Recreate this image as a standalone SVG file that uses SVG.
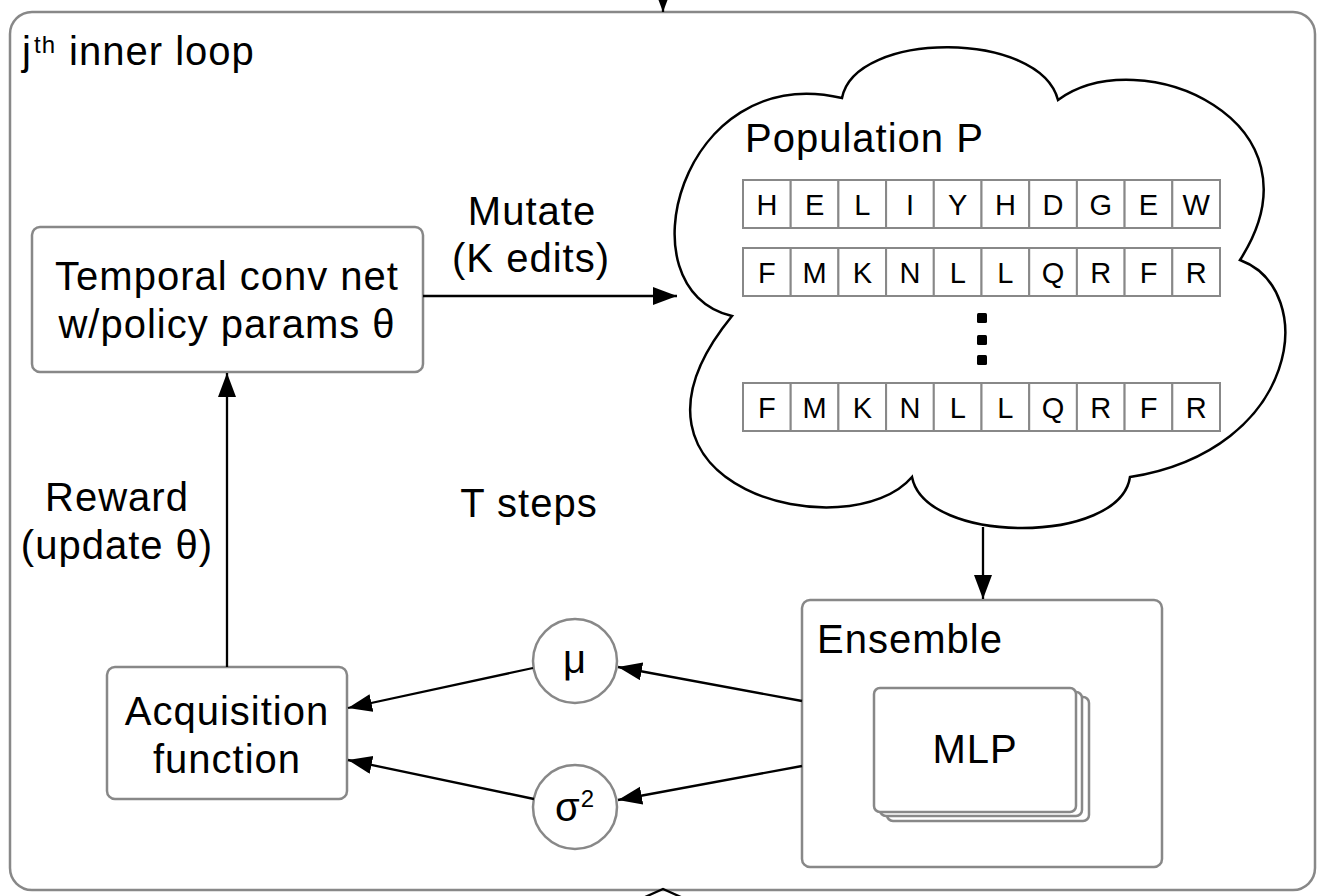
<svg xmlns="http://www.w3.org/2000/svg" width="1328" height="896" viewBox="0 0 1328 896">
<style>
  text { font-family: "Liberation Sans", Arial, Helvetica, sans-serif; fill: #000; }
  .lbl { font-size: 40px; letter-spacing: 1px; }
  .mid { text-anchor: middle; }
  .cell { font-size: 29px; text-anchor: middle; }
  .box { fill: #fff; stroke: #888; stroke-width: 2.5; }
  .cellbox { fill: #fff; stroke: #888; stroke-width: 2; }
  .edge { fill: none; stroke: #000; stroke-width: 2.3; }
</style>
<defs>
  <marker id="ah" markerUnits="userSpaceOnUse" markerWidth="26" markerHeight="20" refX="24" refY="9" orient="auto">
    <path d="M0,0 L24,9 L0,18 Z" fill="#000"/>
  </marker>
</defs>
<rect width="1328" height="896" fill="#fff"/>

<g id="inner-loop">
  <rect class="box" x="10" y="12" width="1305" height="878" rx="22"/>
  <text class="lbl" x="22" y="65">j<tspan x="34" y="53" style="font-size:24px">th</tspan><tspan x="57" y="65"> inner loop</tspan></text>
</g>

<g id="policy">
  <rect class="box" x="32" y="227" width="391" height="145" rx="8"/>
  <text class="lbl mid" x="227" y="290">Temporal conv net</text>
  <text class="lbl mid" x="227" y="338">w/policy params θ</text>
</g>

<g id="acquisition">
  <rect class="box" x="107" y="667" width="240" height="132" rx="8"/>
  <text class="lbl mid" x="227" y="725">Acquisition</text>
  <text class="lbl mid" x="227" y="773">function</text>
</g>

<g id="population">
  <path d="M842 98 C855 30 1040 30 1058 100 C1140 40 1330 120 1240 260 C1320 290 1300 450 1130 477 C1120 545 925 545 912 477 C850 550 590 490 732 316 C620 290 680 60 842 98 Z" fill="#fff" stroke="#000" stroke-width="2.5" stroke-linejoin="miter"/>
  <text class="lbl" x="745" y="152">Population P</text>
  <g id="seq1">
    <rect class="cellbox" x="743" y="180" width="47.7" height="48"/>
    <rect class="cellbox" x="790.7" y="180" width="47.7" height="48"/>
    <rect class="cellbox" x="838.4" y="180" width="47.7" height="48"/>
    <rect class="cellbox" x="886.1" y="180" width="47.7" height="48"/>
    <rect class="cellbox" x="933.8" y="180" width="47.7" height="48"/>
    <rect class="cellbox" x="981.5" y="180" width="47.7" height="48"/>
    <rect class="cellbox" x="1029.2" y="180" width="47.7" height="48"/>
    <rect class="cellbox" x="1076.9" y="180" width="47.7" height="48"/>
    <rect class="cellbox" x="1124.6" y="180" width="47.7" height="48"/>
    <rect class="cellbox" x="1172.3" y="180" width="47.7" height="48"/>
    <text class="cell" x="766.9" y="215">H</text>
    <text class="cell" x="814.6" y="215">E</text>
    <text class="cell" x="862.3" y="215">L</text>
    <text class="cell" x="910" y="215">I</text>
    <text class="cell" x="957.7" y="215">Y</text>
    <text class="cell" x="1005.4" y="215">H</text>
    <text class="cell" x="1053.1" y="215">D</text>
    <text class="cell" x="1100.8" y="215">G</text>
    <text class="cell" x="1148.5" y="215">E</text>
    <text class="cell" x="1196.2" y="215">W</text>
  </g>
  <g id="seq2">
    <rect class="cellbox" x="743" y="248" width="47.7" height="48"/>
    <rect class="cellbox" x="790.7" y="248" width="47.7" height="48"/>
    <rect class="cellbox" x="838.4" y="248" width="47.7" height="48"/>
    <rect class="cellbox" x="886.1" y="248" width="47.7" height="48"/>
    <rect class="cellbox" x="933.8" y="248" width="47.7" height="48"/>
    <rect class="cellbox" x="981.5" y="248" width="47.7" height="48"/>
    <rect class="cellbox" x="1029.2" y="248" width="47.7" height="48"/>
    <rect class="cellbox" x="1076.9" y="248" width="47.7" height="48"/>
    <rect class="cellbox" x="1124.6" y="248" width="47.7" height="48"/>
    <rect class="cellbox" x="1172.3" y="248" width="47.7" height="48"/>
    <text class="cell" x="766.9" y="283">F</text>
    <text class="cell" x="814.6" y="283">M</text>
    <text class="cell" x="862.3" y="283">K</text>
    <text class="cell" x="910" y="283">N</text>
    <text class="cell" x="957.7" y="283">L</text>
    <text class="cell" x="1005.4" y="283">L</text>
    <text class="cell" x="1053.1" y="283">Q</text>
    <text class="cell" x="1100.8" y="283">R</text>
    <text class="cell" x="1148.5" y="283">F</text>
    <text class="cell" x="1196.2" y="283">R</text>
  </g>
  <g id="dots" fill="#000">
    <rect x="977" y="313" width="10" height="10" rx="1.5"/>
    <rect x="977" y="335" width="10" height="10" rx="1.5"/>
    <rect x="977" y="355" width="10" height="10" rx="1.5"/>
  </g>
  <g id="seq3">
    <rect class="cellbox" x="743" y="383" width="47.7" height="48"/>
    <rect class="cellbox" x="790.7" y="383" width="47.7" height="48"/>
    <rect class="cellbox" x="838.4" y="383" width="47.7" height="48"/>
    <rect class="cellbox" x="886.1" y="383" width="47.7" height="48"/>
    <rect class="cellbox" x="933.8" y="383" width="47.7" height="48"/>
    <rect class="cellbox" x="981.5" y="383" width="47.7" height="48"/>
    <rect class="cellbox" x="1029.2" y="383" width="47.7" height="48"/>
    <rect class="cellbox" x="1076.9" y="383" width="47.7" height="48"/>
    <rect class="cellbox" x="1124.6" y="383" width="47.7" height="48"/>
    <rect class="cellbox" x="1172.3" y="383" width="47.7" height="48"/>
    <text class="cell" x="766.9" y="418">F</text>
    <text class="cell" x="814.6" y="418">M</text>
    <text class="cell" x="862.3" y="418">K</text>
    <text class="cell" x="910" y="418">N</text>
    <text class="cell" x="957.7" y="418">L</text>
    <text class="cell" x="1005.4" y="418">L</text>
    <text class="cell" x="1053.1" y="418">Q</text>
    <text class="cell" x="1100.8" y="418">R</text>
    <text class="cell" x="1148.5" y="418">F</text>
    <text class="cell" x="1196.2" y="418">R</text>
  </g>
</g>

<g id="ensemble">
  <rect class="box" x="802" y="600" width="360" height="267" rx="8"/>
  <text class="lbl" x="817" y="653">Ensemble</text>
  <g id="mlp">
    <rect class="box" x="887" y="697" width="202" height="124" rx="6"/>
    <rect class="box" x="880" y="692" width="202" height="124" rx="6"/>
    <rect class="box" x="874" y="688" width="202" height="124" rx="6"/>
    <text class="lbl mid" x="975" y="763">MLP</text>
  </g>
</g>

<g id="mu">
  <circle class="box" cx="575" cy="661" r="42"/>
  <text class="lbl mid" x="575" y="673">μ</text>
</g>

<g id="sigma2">
  <circle class="box" cx="575" cy="807" r="42"/>
  <text class="lbl mid" x="575" y="821">σ<tspan dy="-14" style="font-size:24px">2</tspan></text>
</g>

<g id="connectors">
  <path class="edge" d="M663 -40 L663 12" marker-end="url(#ah)"/>
  <path class="edge" d="M645 897 L663 889 L681 897"/>
  <path class="edge" d="M423 296 L677 296" marker-end="url(#ah)"/>
  <path class="edge" d="M983 527 L983 599" marker-end="url(#ah)"/>
  <path class="edge" d="M802 701 L618 667" marker-end="url(#ah)"/>
  <path class="edge" d="M802 766 L618 800" marker-end="url(#ah)"/>
  <path class="edge" d="M533 668 L348 708" marker-end="url(#ah)"/>
  <path class="edge" d="M534 799 L348 760" marker-end="url(#ah)"/>
  <path class="edge" d="M227 667 L227 373" marker-end="url(#ah)"/>
  <text class="lbl mid" x="532" y="225">Mutate</text>
  <text class="lbl mid" x="531" y="272">(K edits)</text>
  <text class="lbl mid" x="117" y="511">Reward</text>
  <text class="lbl mid" x="117" y="559">(update θ)</text>
  <text class="lbl mid" x="529" y="517">T steps</text>
</g>
</svg>
